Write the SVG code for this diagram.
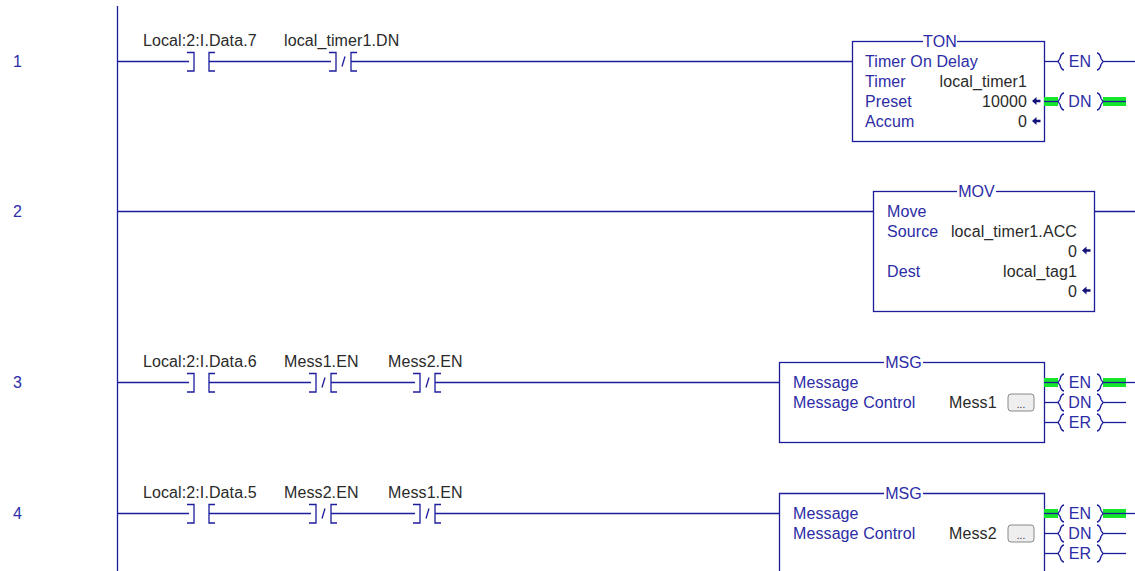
<svg xmlns="http://www.w3.org/2000/svg" width="1135" height="571" viewBox="0 0 1135 571">
<style>
text{font-family:"Liberation Sans",Arial,sans-serif;font-size:16px;letter-spacing:.1px;fill:#2a2a2a}
.b{fill:#2c2ca6}
.r{text-anchor:end}
.c{text-anchor:middle}
.l{fill:none;stroke:#1c1c9c;stroke-width:1.3}
.g{fill:#14e62c}
.box{fill:#fff;stroke:#1c1c9c;stroke-width:1.3}
.a{fill:#14147a}
.btn{fill:#eee;stroke:#888}
.dots{font-size:10px}
</style>
<defs>
<path id="no" class="l" d="M-2 -9H5V9.500H-2M26 -9H20V9.500H26"/>
<g id="nc"><path class="l" d="M-2 -9H5V9.500H-2M26 -9H20V9.500H26"/><path class="l" d="M11 5L14 -5"/></g>
<g id="co"><path class="l" d="M0 0H14"/><path class="l" d="M20 -8.500Q17 -8 16 -3L14 0L16 3Q17 8 20 8.500"/><path class="l" d="M53 -8.500Q56 -8 57 -3L59 0L57 3Q56 8 53 8.500"/></g>
<path id="ar" class="a" d="M0 0L4.500 -4V-1.200H8.500V1.200H4.500V4Z"/>
</defs>
<g id="rail"><path class="l" d="M117.500 6V571"/></g>
<g id="connectors">
<path class="l" d="M117 61.500H189M209 61.500H331M351 61.500H852"/>
<path class="l" d="M117 211.500H873"/>
<path class="l" d="M117 382.500H189M209 382.500H311M331 382.500H415M435 382.500H779"/>
<path class="l" d="M117 513.500H189M209 513.500H311M331 513.500H415M435 513.500H779"/>
<path class="l" d="M1095 211.500H1135"/>
</g>
<g id="rung-numbers">
<text class="b" x="13" y="66.500">1</text><text class="b" x="13" y="216.500">2</text><text class="b" x="13" y="387.500">3</text><text class="b" x="13" y="518.500">4</text>
</g>
<g id="contact-1a"><text x="143" y="45.500">Local:2:I.Data.7</text><use href="#no" x="189" y="61.500"/></g>
<g id="contact-1b"><text x="284" y="45.500">local_timer1.DN</text><use href="#nc" x="331" y="61.500"/></g>
<g id="contact-3a"><text x="143" y="366.500">Local:2:I.Data.6</text><use href="#no" x="189" y="382.500"/></g>
<g id="contact-3b"><text x="284" y="366.500">Mess1.EN</text><use href="#nc" x="311" y="382.500"/></g>
<g id="contact-3c"><text x="388" y="366.500">Mess2.EN</text><use href="#nc" x="415" y="382.500"/></g>
<g id="contact-4a"><text x="143" y="497.500">Local:2:I.Data.5</text><use href="#no" x="189" y="513.500"/></g>
<g id="contact-4b"><text x="284" y="497.500">Mess2.EN</text><use href="#nc" x="311" y="513.500"/></g>
<g id="contact-4c"><text x="388" y="497.500">Mess1.EN</text><use href="#nc" x="415" y="513.500"/></g>
<g id="ton">
<rect class="box" x="852.500" y="41.500" width="192" height="100"/>
<rect x="923" y="38" width="34" height="7" fill="#fff"/>
<text class="b c" x="940" y="47">TON</text>
<text class="b" x="865" y="67">Timer On Delay</text>
<text class="b" x="865" y="87">Timer</text><text x="1027" y="87" class="r">local_timer1</text>
<text class="b" x="865" y="107">Preset</text><text x="1027" y="107" class="r">10000</text><use href="#ar" x="1032" y="101"/>
<text class="b" x="865" y="127">Accum</text><text x="1027" y="127" class="r">0</text><use href="#ar" x="1032" y="121"/>
</g>
<g id="ton-outputs">
<use href="#co" x="1044" y="61.500"/><text class="b c" x="1080" y="67">EN</text><path class="l" d="M1103 61.500H1135"/>
<rect class="g" x="1044" y="97" width="14" height="9"/><rect class="g" x="1103" y="97" width="23" height="9"/>
<use href="#co" x="1044" y="101.500"/><text class="b c" x="1080" y="107">DN</text><path class="l" d="M1103 101.500H1126"/>
</g>
<g id="mov">
<rect class="box" x="873.500" y="191.500" width="221" height="120"/>
<rect x="957" y="188" width="39" height="7" fill="#fff"/>
<text class="b c" x="976.500" y="197">MOV</text>
<text class="b" x="887" y="217">Move</text>
<text class="b" x="887" y="237">Source</text><text x="1077" y="237" class="r">local_timer1.ACC</text>
<text x="1077" y="257" class="r">0</text><use href="#ar" x="1082" y="250.500"/>
<text class="b" x="887" y="277">Dest</text><text x="1077" y="277" class="r">local_tag1</text>
<text x="1077" y="297" class="r">0</text><use href="#ar" x="1082" y="290.500"/>
</g>
<g id="msg1">
<rect class="box" x="779.500" y="362.500" width="265" height="80"/>
<rect x="884" y="359" width="39" height="7" fill="#fff"/>
<text class="b c" x="903.500" y="368">MSG</text>
<text class="b" x="793" y="388">Message</text>
<text class="b" x="793" y="408">Message Control</text>
<text x="949" y="408">Mess1</text>
<rect class="btn" x="1008" y="394" width="26" height="17" rx="3"/><text x="1021" y="408" class="c dots">...</text>
</g>
<g id="msg1-outputs">
<rect class="g" x="1044" y="378" width="14" height="9"/><rect class="g" x="1103" y="378" width="23" height="9"/>
<use href="#co" x="1044" y="382.500"/><text class="b c" x="1080" y="388">EN</text><path class="l" d="M1103 382.500H1135"/>
<use href="#co" x="1044" y="402.500"/><text class="b c" x="1080" y="408">DN</text><path class="l" d="M1103 402.500H1126"/>
<use href="#co" x="1044" y="422.500"/><text class="b c" x="1080" y="428">ER</text><path class="l" d="M1103 422.500H1126"/>
</g>
<g id="msg2">
<path class="box" d="M779.500 571V493.500H1044.500V571"/>
<rect x="884" y="490" width="39" height="7" fill="#fff"/>
<text class="b c" x="903.500" y="499">MSG</text>
<text class="b" x="793" y="519">Message</text>
<text class="b" x="793" y="539">Message Control</text>
<text x="949" y="539">Mess2</text>
<rect class="btn" x="1008" y="525" width="26" height="17" rx="3"/><text x="1021" y="539" class="c dots">...</text>
</g>
<g id="msg2-outputs">
<rect class="g" x="1044" y="509" width="14" height="9"/><rect class="g" x="1103" y="509" width="23" height="9"/>
<use href="#co" x="1044" y="513.500"/><text class="b c" x="1080" y="519">EN</text><path class="l" d="M1103 513.500H1135"/>
<use href="#co" x="1044" y="533.500"/><text class="b c" x="1080" y="539">DN</text><path class="l" d="M1103 533.500H1126"/>
<use href="#co" x="1044" y="553.500"/><text class="b c" x="1080" y="559">ER</text><path class="l" d="M1103 553.500H1126"/>
</g>
</svg>
